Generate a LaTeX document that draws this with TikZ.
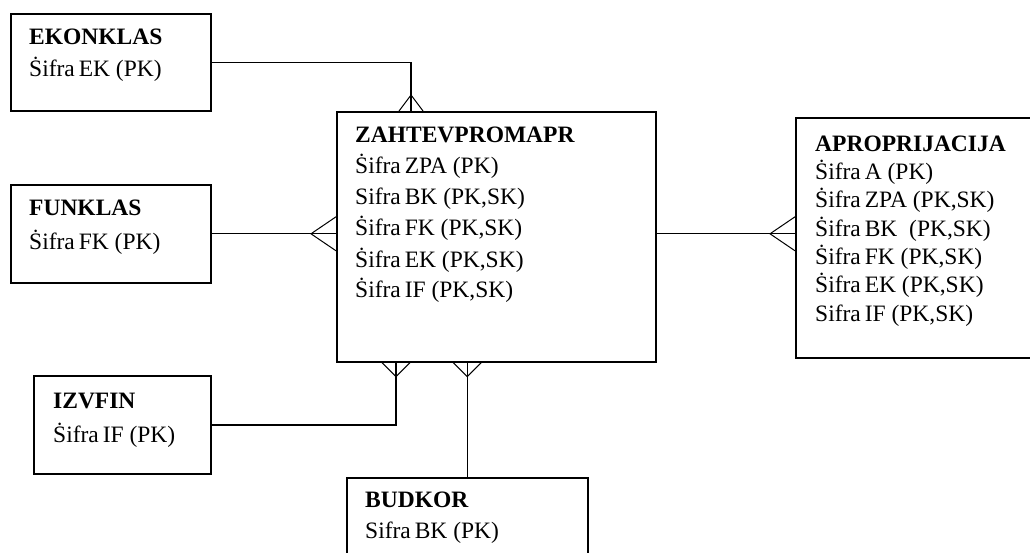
\documentclass[tikz,border=0pt]{standalone}
\usepackage{fontspec}
\setmainfont{Liberation Serif}
\usetikzlibrary{calc}
\tikzset{
  entity/.style={draw, line width=1.6pt, anchor=north west, inner sep=0pt},
  fieldtext/.style={anchor=base west, inner sep=0pt, font=\fontsize{23.5}{28}\selectfont},
  link/.style={line width=1.4pt},
  foot/.style={line width=1pt},
}
\begin{document}
\begin{tikzpicture}[x=1pt, y=-1pt]
  \clip (0,0) rectangle (1030,553);
  % entity boxes
  \foreach \nm/\x/\y/\w/\h in {ek/10/13/200/97, fk/10/184/200/98, za/336/111/319/250, ap/795/117/260/240, iv/33/375/177/98, bk/346/477/241/120}{
    \node[entity, minimum width=\w, minimum height=\h] (\nm) at (\x,\y) {};
  }
  % texts
  \foreach \t [count=\i from 0] in {\textbf{EKONKLAS}, Ṡifra\,EK (PK)}
    \node[fieldtext] (ek-\i) at ($(ek.north west)+(19,32+32*\i)$) {\t};
  \foreach \t [count=\i from 0] in {\textbf{FUNKLAS}, Ṡifra\,FK (PK)}
    \node[fieldtext] (fk-\i) at ($(fk.north west)+(19,32+34*\i)$) {\t};
  \foreach \t [count=\i from 0] in {\textbf{IZVFIN}, Ṡifra\,IF (PK)}
    \node[fieldtext] (iv-\i) at ($(iv.north west)+(20,33+34*\i)$) {\t};
  \foreach \t [count=\i from 0] in {\textbf{BUDKOR}, Sifra\,BK (PK)}
    \node[fieldtext] (bk-\i) at ($(bk.north west)+(19,30+31*\i)$) {\t};
  \foreach \t [count=\i from 0] in {\textbf{ZAHTEVPROMAPR}, Ṡifra\,ZPA (PK), {Sifra\,BK (PK,SK)}, {Ṡifra\,FK (PK,SK)}, {Ṡifra\,EK (PK,SK)}, {Ṡifra\,IF (PK,SK)}}
    \node[fieldtext] (za-\i) at ($(za.north west)+(19,32+31*\i)$) {\t};
  \foreach \t [count=\i from 0] in {\textbf{APROPRIJACIJA}, Ṡifra\,A (PK), {Ṡifra\,ZPA (PK,SK)}, {Ṡifra\,BK\ \ (PK,SK)}, {Ṡifra\,FK (PK,SK)}, {Ṡifra\,EK (PK,SK)}, {Sifra\,IF (PK,SK)}}
    \node[fieldtext] (ap-\i) at ($(ap.north west)+(20,31+3.4+28.3*\i)$) {\t};
  % connectors
  \coordinate (ekfoot) at ($(za.north west)+(75,0)$);
  \coordinate (ivfoot) at ($(za.south west)+(60,0)$);
  \coordinate (fkfoot) at (fk.east -| za.west);
  \coordinate (apfoot) at (fk.east -| ap.west);
  \coordinate (bkfoot) at (bk.north |- za.south);
  \draw[link] (ek.east) -| (ekfoot);
  \draw[link] (fk.east) -- (fkfoot);
  \draw[link] (za.east |- fk.east) -- (apfoot);
  \draw[link] (iv.east) -| (ivfoot);
  \draw[link] (bk.north) -- (bkfoot);
  % crow's feet
  \draw[foot] ($(ekfoot)+(-12,0)$) -- ($(ekfoot)+(0,-16)$) -- ($(ekfoot)+(12,0)$);
  \foreach \c in {fkfoot, apfoot}
    \draw[foot] ($(\c)+(0,-17)$) -- ($(\c)+(-25,0)$) -- ($(\c)+(0,17)$);
  \foreach \c in {ivfoot, bkfoot}
    \draw[foot] ($(\c)+(-14,0)$) -- ($(\c)+(0,14)$) -- ($(\c)+(14,0)$);
\end{tikzpicture}
\end{document}
